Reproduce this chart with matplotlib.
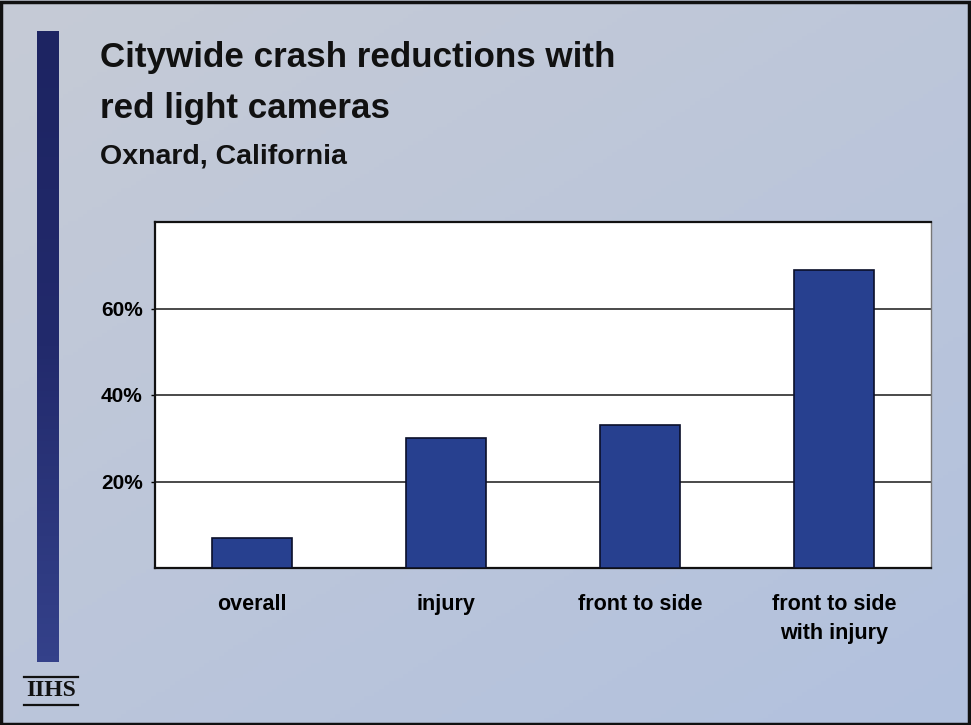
import matplotlib.pyplot as plt
import numpy as np
from matplotlib.colors import LinearSegmentedColormap
from matplotlib.patches import Rectangle

# crash reduction by crash type, percent
categories = ["overall", "injury", "front to side", "front to side\nwith injury"]
reductions = [7, 30, 33, 69]
y_ticks = [20, 40, 60]

W, H = 971, 725
BAR_COLOR = "#27408f"
NAVY = "#1d2462"

plt.rcParams["font.family"] = ["Liberation Sans", "DejaVu Sans"]

fig = plt.figure(figsize=(W / 100, H / 100), dpi=100)

# slide background: soft grey-blue wash
bg = fig.add_axes([0, 0, 1, 1], zorder=-10)
yy, xx = np.mgrid[0:1:200j, 0:1:200j]
t = np.clip(0.55 * yy + 0.45 * xx, 0, 1)
top = np.array([198, 203, 214]) / 255
bottom = np.array([178, 193, 222]) / 255
img = top[None, None, :] * (1 - t[..., None]) + bottom[None, None, :] * t[..., None]
bg.imshow(img, extent=[0, 1, 0, 1], aspect="auto", origin="upper")
bg.set_xlim(0, 1)
bg.set_ylim(0, 1)
bg.axis("off")

# vertical accent bar on the left
bar_ax = fig.add_axes([37 / W, 1 - 662 / H, 21 / W, (662 - 31) / H], zorder=-5)
grad = np.linspace(0, 1, 100)[:, None]
cmap = LinearSegmentedColormap.from_list("navy", [NAVY, "#222a6c", "#34418a"])
bar_ax.imshow(grad, cmap=cmap, aspect="auto", extent=[0, 1, 0, 1])
bar_ax.axis("off")

# titles
fig.text(100 / W, 1 - 67 / H, "Citywide crash reductions with", fontsize=25.2,
         fontweight="bold", color="#111111", va="baseline", ha="left")
fig.text(100 / W, 1 - 118 / H, "red light cameras", fontsize=25.2,
         fontweight="bold", color="#111111", va="baseline", ha="left")
fig.text(100 / W, 1 - 163 / H, "Oxnard, California", fontsize=20.5,
         fontweight="bold", color="#111111", va="baseline", ha="left")

# chart
ax = fig.add_axes([155 / W, 1 - 568 / H, 776 / W, 346 / H])
ax.set_facecolor("white")
x = np.arange(len(categories))
ax.bar(x, reductions, width=0.41, color=BAR_COLOR, edgecolor="#0b0f2a",
       linewidth=1.2, zorder=3)
ax.set_xlim(-0.5, len(categories) - 0.5)
ax.set_ylim(0, 80)
ax.set_yticks(y_ticks)
ax.set_yticklabels([f"{v}%" for v in y_ticks], fontsize=15, fontweight="bold")
ax.set_xticks(x)
ax.set_xticklabels(categories, fontsize=15.5, fontweight="bold", linespacing=1.45)
ax.tick_params(axis="x", length=0, pad=19)
ax.tick_params(axis="y", length=3, width=1, pad=6)
ax.yaxis.grid(True, color="#2a2a2a", linewidth=1.2, zorder=1)
ax.set_axisbelow(True)
for side in ["left", "top", "bottom"]:
    ax.spines[side].set_color("#111111")
    ax.spines[side].set_linewidth(1.6)
ax.spines["right"].set_color("#777777")
ax.spines["right"].set_linewidth(1.0)

# IIHS mark
fig.text(51 / W, 1 - 691 / H, "IIHS", fontsize=17, fontweight="bold",
         family=["Liberation Serif", "DejaVu Serif"], ha="center", va="center",
         color="#111111")
fig.add_artist(plt.Line2D([24 / W, 78 / W], [1 - 677 / H, 1 - 677 / H],
                          color="#111111", linewidth=1.6))
fig.add_artist(plt.Line2D([24 / W, 78 / W], [1 - 705 / H, 1 - 705 / H],
                          color="#111111", linewidth=1.6))

# outer frame
fig.add_artist(Rectangle((0.001, 0.002), 0.997, 0.995, transform=fig.transFigure,
                         fill=False, edgecolor="#111111", linewidth=2.5))

fig.savefig("out.png", dpi=100)
